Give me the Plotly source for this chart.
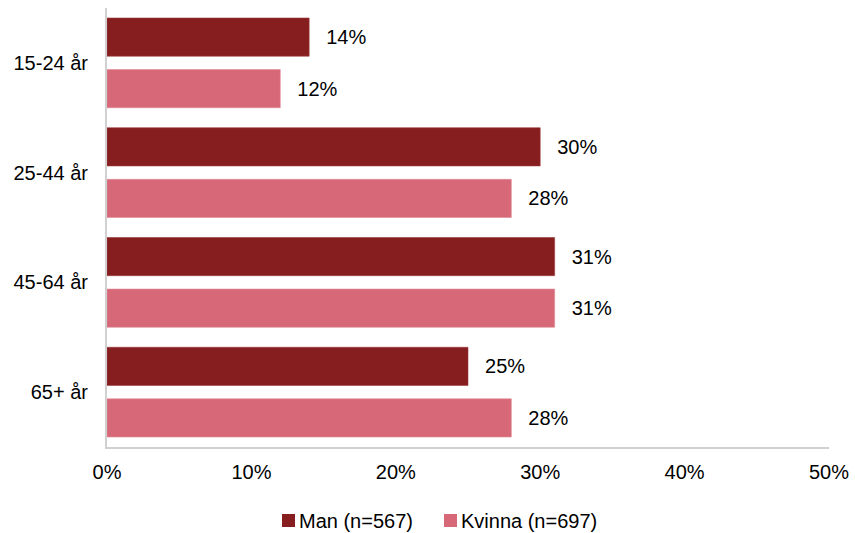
import plotly.graph_objects as go

categories = ["15-24 år", "25-44 år", "45-64 år", "65+ år"]
man_values = [14, 30, 31, 25]
kvinna_values = [12, 28, 31, 28]
man_name = "Man (n=567)"
kvinna_name = "Kvinna (n=697)"
x_ticks = [0, 10, 20, 30, 40, 50]

MAN_COLOR = "#861D1F"
KVINNA_COLOR = "#D66878"
FONT = "Liberation Sans, Arial, sans-serif"
FS = 20
pad = "\u2002\u2009"

# plot area in pixels
L, R, T, B = 107, 829, 8, 447
W, H = 855, 533


def px(x):
    return (x - L) / (R - L)


def py(y):
    return (B - y) / (B - T)


fig = go.Figure()
fig.add_trace(go.Bar(
    y=categories, x=man_values, orientation="h", name=man_name,
    marker=dict(color=MAN_COLOR, line=dict(color="#9a3a3c", width=0.6)),
    text=[f"{pad}{v}%" for v in man_values], textposition="outside",
    textfont=dict(size=FS, color="#000000", family=FONT), cliponaxis=False,
    hoverinfo="skip", showlegend=False,
))
fig.add_trace(go.Bar(
    y=categories, x=kvinna_values, orientation="h", name=kvinna_name,
    marker=dict(color=KVINNA_COLOR, line=dict(color="#e08a96", width=0.6)),
    text=[f"{pad}{v}%" for v in kvinna_values], textposition="outside",
    textfont=dict(size=FS, color="#000000", family=FONT), cliponaxis=False,
    hoverinfo="skip", showlegend=False,
))

# legend drawn as squares + text
legend_items = [(man_name, MAN_COLOR, 282), (kvinna_name, KVINNA_COLOR, 444)]
shapes = []
annotations = []
for name, color, x0 in legend_items:
    shapes.append(dict(type="rect", xref="paper", yref="paper",
                       x0=px(x0), x1=px(x0 + 13), y0=py(527), y1=py(514),
                       fillcolor=color, line=dict(width=0)))
    annotations.append(dict(text=name, xref="paper", yref="paper",
                            x=px(x0 + 15), y=py(520.5), xanchor="left", yanchor="middle",
                            showarrow=False, font=dict(size=FS, color="#000000", family=FONT)))

fig.update_layout(
    width=W, height=H,
    margin=dict(l=L, r=W - R, t=T, b=H - B),
    paper_bgcolor="white", plot_bgcolor="white",
    barmode="group", bargap=0.06, bargroupgap=0.26,
    font=dict(family=FONT, size=FS, color="#000000"),
    showlegend=False,
    shapes=shapes, annotations=annotations,
    xaxis=dict(range=[0, 50], tickvals=x_ticks, ticktext=[f"{v}%" for v in x_ticks],
               showgrid=False, zeroline=False, showline=True, linecolor="#d0d0d0",
               linewidth=2, ticks="", ticklabelstandoff=6, fixedrange=True,
               automargin=False),
    yaxis=dict(range=[3.5, -0.5], showgrid=False, zeroline=False, showline=True,
               linecolor="#d0d0d0", linewidth=2, ticks="", ticklabelstandoff=13,
               fixedrange=True, automargin=False),
)

fig.write_html("out.html", config={"displayModeBar": False, "staticPlot": True},
               post_script="document.body.style.margin='0';document.body.style.overflow='hidden';")
